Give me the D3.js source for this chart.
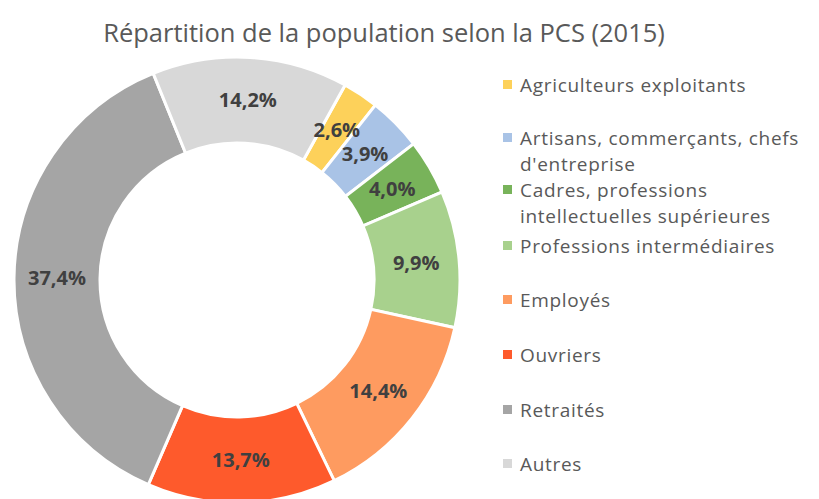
<!DOCTYPE html>
<html lang="fr">
<head>
    <meta charset="UTF-8"/>
    <title>Répartition de la population selon la PCS (2015)</title>
    <script src="https://d3js.org/d3.v7.min.js"></script>
    <style>
        body { margin: 0; background: #ffffff; }
        text { font-family: "Open Sans", "Liberation Sans", sans-serif; }
    </style>
</head>
<body>
    <script>
        var w = 819;
        var h = 499;

        var categories = [
            "Agriculteurs exploitants",
            "Artisans, commerçants, chefs d'entreprise",
            "Cadres, professions intellectuelles supérieures",
            "Professions intermédiaires",
            "Employés",
            "Ouvriers",
            "Retraités",
            "Autres"
        ];
        var values = [2.6, 3.9, 4.0, 9.9, 14.4, 13.7, 37.4, 14.2];
        var labels = ["2,6%", "3,9%", "4,0%", "9,9%", "14,4%", "13,7%", "37,4%", "14,2%"];
        // legend lines (wrapped as in the original)
        var legendLines = [
            ["Agriculteurs exploitants"],
            ["Artisans, commerçants, chefs", "d'entreprise"],
            ["Cadres, professions", "intellectuelles supérieures"],
            ["Professions intermédiaires"],
            ["Employés"],
            ["Ouvriers"],
            ["Retraités"],
            ["Autres"]
        ];
        var colors = ["#FDD15A", "#A9C3E6", "#78B35A", "#A8D18D", "#FE9B60", "#FE5A2C", "#A5A5A5", "#D8D8D8"];

        var cx = 237, cy = 280;
        var outerR = 223, innerR = 137;
        var startAngle = 29 * Math.PI / 180;

        var svg = d3.select("body")
                    .append("svg")
                    .attr("width", w)
                    .attr("height", h);

        svg.append("text")
           .attr("x", 384)
           .attr("y", 42)
           .attr("text-anchor", "middle")
           .attr("font-size", "25.5px")
           .attr("fill", "#595959")
           .text("Répartition de la population selon la PCS (2015)");

        var pie = d3.pie()
                    .sort(null)
                    .value(function(d) { return d; })
                    .startAngle(startAngle)
                    .endAngle(startAngle + 2 * Math.PI);

        var arc = d3.arc()
                    .innerRadius(innerR)
                    .outerRadius(outerR);

        var labelArc = d3.arc()
                         .innerRadius((innerR + outerR) / 2)
                         .outerRadius((innerR + outerR) / 2);

        var g = svg.append("g")
                   .attr("transform", "translate(" + cx + "," + cy + ")");

        var arcs = pie(values);

        g.selectAll("path")
         .data(arcs)
         .enter()
         .append("path")
         .attr("d", arc)
         .attr("fill", function(d, i) { return colors[i]; })
         .attr("stroke", "#ffffff")
         .attr("stroke-width", 3);

        g.selectAll("text.label")
         .data(arcs)
         .enter()
         .append("text")
         .attr("class", "label")
         .attr("transform", function(d) {
             var c = labelArc.centroid(d);
             return "translate(" + c[0] + "," + c[1] + ")";
         })
         .attr("text-anchor", "middle")
         .attr("dy", "0.35em")
         .attr("font-size", "20px")
         .attr("font-weight", "bold")
         .attr("fill", "#404040")
         .text(function(d, i) { return labels[i]; });

        // legend
        var legendY = [85, 138, 190, 246, 300, 355, 410, 464];
        var legend = svg.selectAll("g.legend")
                        .data(categories)
                        .enter()
                        .append("g")
                        .attr("class", "legend")
                        .attr("transform", function(d, i) { return "translate(503," + legendY[i] + ")"; });

        legend.append("rect")
              .attr("x", 0)
              .attr("y", -5)
              .attr("width", 9)
              .attr("height", 9)
              .attr("fill", function(d, i) { return colors[i]; });

        legend.append("text")
              .attr("x", 17)
              .attr("y", 0)
              .attr("font-size", "19px")
              .attr("letter-spacing", "0.7px")
              .attr("fill", "#595959")
              .selectAll("tspan")
              .data(function(d, i) { return legendLines[i]; })
              .enter()
              .append("tspan")
              .attr("x", 17)
              .attr("dy", function(d, j) { return j === 0 ? "0.35em" : "26px"; })
              .text(function(d) { return d; });
    </script>
</body>
</html>
